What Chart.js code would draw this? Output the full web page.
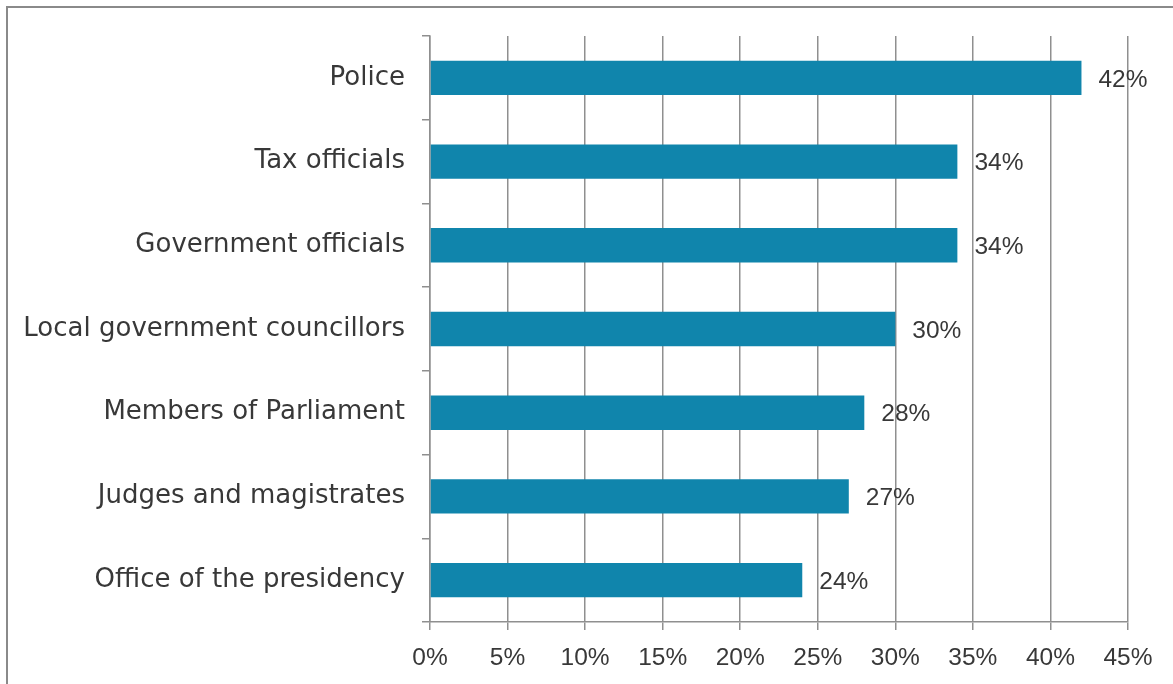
<!DOCTYPE html>
<html>
<head>
<meta charset="utf-8">
<script src="https://cdn.jsdelivr.net/npm/chart.js@4/dist/chart.umd.min.js"></script>
<style>
  html, body { margin: 0; padding: 0; background: #fff; overflow: hidden; }
  #frame { position: absolute; left: 6px; top: 6px; width: 1200px; height: 700px; border: 2px solid #8a8a8a; box-sizing: border-box; }
  #wrap { position: absolute; left: 0; top: 0; width: 1173px; height: 684px; }
</style>
</head>
<body>
<div id="frame"></div>
<div id="wrap"><canvas id="c" width="1173" height="684"></canvas></div>
<script>
const categories = ["Police", "Tax officials", "Government officials", "Local government councillors", "Members of Parliament", "Judges and magistrates", "Office of the presidency"];
const values = [42, 34, 34, 30, 28, 27, 24];
const xTicks = [0, 5, 10, 15, 20, 25, 30, 35, 40, 45];

const CAT_FONT = "'DejaVu Sans', sans-serif";
const NUM_FONT = "'Liberation Sans', Arial, sans-serif";
const TEXT = '#383838';
const GRID = '#8f8f8f';

const labelPlugin = {
  id: 'barLabels',
  afterDatasetsDraw(chart) {
    const ctx = chart.ctx;
    const meta = chart.getDatasetMeta(0);
    ctx.save();
    ctx.font = '24.5px ' + NUM_FONT;
    ctx.fillStyle = TEXT;
    ctx.textAlign = 'left';
    ctx.textBaseline = 'middle';
    meta.data.forEach((bar, i) => {
      ctx.fillText(values[i] + '%', bar.x + 17, bar.y + 2);
    });
    ctx.restore();
  }
};

new Chart(document.getElementById('c'), {
  type: 'bar',
  data: {
    labels: categories,
    datasets: [{
      data: values,
      backgroundColor: '#1085ac',
      borderWidth: 0,
      barPercentage: 0.41,
      categoryPercentage: 1.0
    }]
  },
  options: {
    indexAxis: 'y',
    responsive: false,
    animation: false,
    layout: { padding: { top: 36, right: 45, left: 0, bottom: 0 } },
    plugins: { legend: { display: false }, tooltip: { enabled: false } },
    scales: {
      x: {
        min: 0, max: 45,
        afterBuildTicks(axis) { axis.ticks = xTicks.map(v => ({ value: v })); },
        afterFit(axis) { axis.height = 62; },
        grid: { color: GRID, lineWidth: 1.5, tickLength: 8, drawTicks: true },
        border: { color: GRID, width: 1.5 },
        ticks: { color: TEXT, font: { family: NUM_FONT, size: 24.5 }, padding: 14, callback: v => v + '%' }
      },
      y: {
        afterFit(axis) { axis.width = 430; },
        grid: { drawOnChartArea: false, color: GRID, lineWidth: 1.5, tickLength: 8, offset: true },
        border: { color: GRID, width: 1.5 },
        ticks: { color: TEXT, font: { family: CAT_FONT, size: 26 }, padding: 17 }
      }
    }
  },
  plugins: [labelPlugin]
});
</script>
</body>
</html>
